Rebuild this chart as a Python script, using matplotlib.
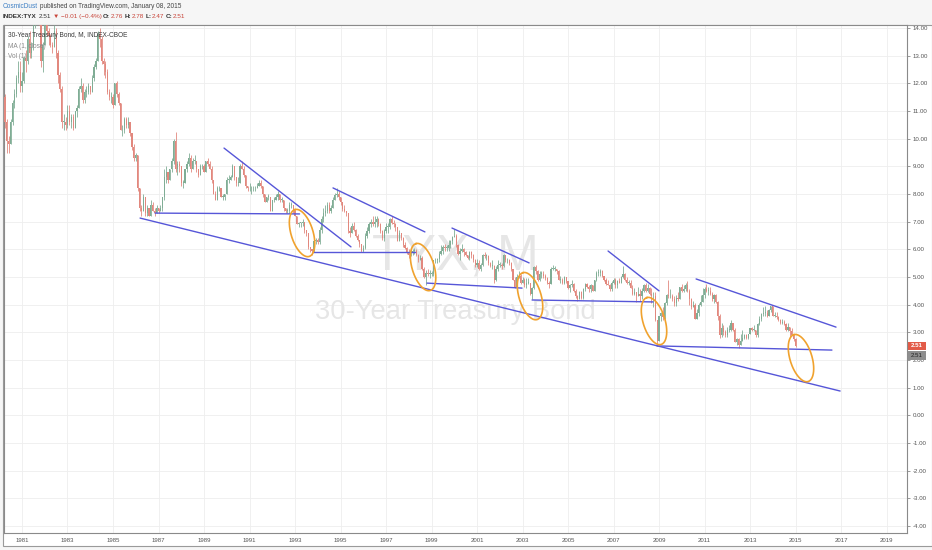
import matplotlib
matplotlib.use('Agg')
import matplotlib.pyplot as plt
import numpy as np
from matplotlib.patches import Rectangle

# ---------------- data (monthly 30-year yield, INDEX:TYX) ----------------
start_year, start_month = 1980, 4
first_open = 11.5

closes = [
    10.6, 9.9, 9.8, 10.6, 11.3, 11.6, 12.2, 12.4, 11.9,                       # 1980 Apr-Dec
    12.1, 12.9, 12.8, 13.6, 13.1, 13.3, 14.1, 14.7, 15.1, 14.6, 12.8, 13.4,   # 1981
    14.2, 13.9, 13.7, 13.4, 13.3, 13.9, 13.1, 12.3, 11.8, 10.6, 10.6, 10.5,   # 1982
    11.0, 10.6, 10.8, 10.4, 11.0, 11.1, 11.8, 11.9, 11.4, 11.7, 11.7, 11.9,   # 1983
    11.7, 12.2, 12.6, 12.8, 13.8, 13.6, 12.8, 12.7, 12.4, 11.7, 11.5, 11.5,   # 1984
    11.2, 12.0, 11.6, 11.3, 10.3, 10.3, 10.7, 10.5, 10.6, 10.2, 9.7, 9.3,     # 1985
    9.4, 8.2, 7.5, 7.4, 7.9, 7.3, 7.5, 7.2, 7.6, 7.4, 7.3, 7.5,               # 1986
    7.4, 7.5, 7.9, 8.6, 8.8, 8.5, 8.9, 9.2, 9.9, 8.9, 9.1, 9.0,               # 1987
    8.4, 8.4, 8.9, 9.1, 9.3, 8.9, 9.2, 9.2, 8.9, 8.7, 9.0, 9.0,               # 1988
    8.8, 9.2, 9.1, 8.9, 8.5, 8.0, 7.8, 8.2, 8.2, 7.9, 7.9, 8.0,               # 1989
    8.5, 8.5, 8.6, 9.0, 8.6, 8.4, 8.4, 9.0, 8.9, 8.7, 8.3, 8.2,               # 1990
    8.2, 8.2, 8.2, 8.2, 8.3, 8.4, 8.3, 8.0, 7.7, 7.9, 7.9, 7.4,               # 1991
    7.8, 7.8, 7.9, 8.0, 7.8, 7.8, 7.5, 7.4, 7.4, 7.6, 7.6, 7.4,               # 1992
    7.2, 6.9, 6.95, 6.95, 7.0, 6.7, 6.6, 6.1, 6.0, 5.95, 6.3, 6.35,           # 1993
    6.25, 6.7, 7.1, 7.3, 7.4, 7.6, 7.4, 7.5, 7.8, 7.95, 8.0, 7.9,             # 1994
    7.7, 7.45, 7.4, 7.3, 6.65, 6.6, 6.85, 6.7, 6.5, 6.35, 6.2, 5.95,          # 1995
    6.05, 6.5, 6.65, 6.9, 7.0, 6.9, 7.0, 7.1, 6.9, 6.65, 6.4, 6.65,           # 1996
    6.8, 6.8, 7.1, 6.95, 6.9, 6.8, 6.3, 6.6, 6.4, 6.15, 6.05, 5.9,            # 1997
    5.8, 5.9, 5.95, 5.95, 5.8, 5.6, 5.7, 5.3, 5.0, 5.15, 5.1, 5.1,            # 1998
    5.1, 5.6, 5.6, 5.65, 5.85, 5.95, 6.1, 6.05, 6.05, 6.15, 6.3, 6.45,        # 1999
    6.5, 6.15, 5.85, 5.95, 6.0, 5.9, 5.8, 5.7, 5.9, 5.8, 5.6, 5.45,           # 2000
    5.5, 5.3, 5.45, 5.8, 5.75, 5.75, 5.5, 5.4, 5.4, 4.9, 5.3, 5.45,           # 2001
    5.45, 5.4, 5.8, 5.6, 5.6, 5.5, 5.3, 4.9, 4.65, 5.0, 5.05, 4.8,            # 2002
    4.9, 4.7, 4.8, 4.8, 4.4, 4.6, 5.35, 5.2, 4.9, 5.1, 5.1, 5.05,             # 2003
    4.95, 4.8, 4.75, 5.3, 5.3, 5.3, 5.2, 4.9, 4.9, 4.8, 5.0, 4.85,            # 2004
    4.6, 4.7, 4.75, 4.5, 4.3, 4.2, 4.45, 4.25, 4.55, 4.75, 4.65, 4.55,        # 2005
    4.7, 4.5, 4.9, 5.15, 5.15, 5.2, 5.05, 4.9, 4.75, 4.7, 4.55, 4.8,          # 2006
    4.9, 4.7, 4.85, 4.8, 5.0, 5.1, 4.9, 4.8, 4.8, 4.6, 4.4, 4.45,             # 2007
    4.3, 4.4, 4.3, 4.5, 4.7, 4.5, 4.6, 4.4, 4.3, 4.3, 3.45, 2.7,              # 2008
    3.6, 3.7, 3.55, 4.05, 4.35, 4.3, 4.3, 4.2, 4.05, 4.25, 4.2, 4.65,         # 2009
    4.5, 4.55, 4.7, 4.5, 4.2, 3.9, 4.0, 3.5, 3.7, 4.0, 4.1, 4.35,             # 2010
    4.55, 4.5, 4.5, 4.4, 4.2, 4.35, 4.1, 3.6, 2.9, 3.15, 3.0, 2.9,            # 2011
    3.1, 3.1, 3.35, 3.1, 2.65, 2.75, 2.55, 2.7, 2.8, 2.9, 2.8, 2.95,          # 2012
    3.15, 3.1, 3.1, 2.9, 3.3, 3.5, 3.65, 3.7, 3.7, 3.6, 3.8, 3.95,            # 2013
    3.6, 3.6, 3.55, 3.45, 3.33, 3.36, 3.3, 3.1, 3.2, 3.06, 2.9, 2.75,         # 2014
    2.51,                                                                     # 2015 Jan
]

highs = [
    11.6, 10.7, 10.1, 10.7, 11.4, 11.8, 12.3, 12.8, 12.8,
    12.4, 13.0, 13.2, 13.7, 13.9, 13.5, 14.2, 14.8, 15.2, 15.2, 14.6, 13.5,
    14.4, 14.3, 14.0, 13.8, 13.5, 14.1, 14.0, 13.2, 12.4, 11.9, 10.9, 10.8,
    11.2, 11.2, 10.9, 10.9, 11.0, 11.2, 11.9, 12.2, 12.0, 11.8, 11.9, 12.0,
    11.9, 12.3, 12.7, 12.9, 13.9, 14.0, 13.7, 12.9, 12.8, 12.5, 11.8, 11.7,
    11.6, 12.0, 12.1, 11.7, 11.3, 10.5, 10.8, 10.8, 10.8, 10.6, 10.2, 9.8,
    9.5, 9.4, 8.2, 7.6, 8.0, 7.9, 7.6, 7.5, 7.8, 7.7, 7.5, 7.6,
    7.5, 7.6, 7.9, 8.9, 9.0, 8.8, 8.9, 9.3, 10.0, 10.25, 9.2, 9.2,
    9.0, 8.5, 8.9, 9.2, 9.5, 9.4, 9.3, 9.4, 9.2, 8.9, 9.1, 9.1,
    9.1, 9.2, 9.3, 9.2, 9.0, 8.5, 8.1, 8.3, 8.3, 8.2, 8.0, 8.0,
    8.6, 8.7, 8.7, 9.1, 9.0, 8.6, 8.6, 9.1, 9.2, 9.0, 8.7, 8.3,
    8.4, 8.3, 8.3, 8.3, 8.4, 8.5, 8.5, 8.3, 8.0, 7.9, 8.0, 7.9,
    7.8, 7.9, 8.0, 8.1, 8.0, 7.9, 7.8, 7.5, 7.5, 7.7, 7.7, 7.6,
    7.45, 7.2, 7.0, 7.0, 7.1, 7.0, 6.7, 6.6, 6.1, 6.0, 6.4, 6.4,
    6.4, 6.8, 7.2, 7.5, 7.6, 7.7, 7.7, 7.6, 7.9, 8.05, 8.2, 8.1,
    7.9, 7.7, 7.6, 7.4, 7.3, 6.8, 6.95, 7.0, 6.75, 6.55, 6.35, 6.2,
    6.15, 6.6, 6.8, 7.0, 7.1, 7.2, 7.2, 7.2, 7.15, 6.95, 6.7, 6.75,
    6.95, 6.95, 7.15, 7.2, 7.05, 6.95, 6.8, 6.7, 6.6, 6.45, 6.25, 6.1,
    6.0, 6.0, 6.0, 6.05, 6.0, 5.85, 5.8, 5.75, 5.35, 5.25, 5.3, 5.25,
    5.2, 5.6, 5.7, 5.7, 5.95, 6.15, 6.15, 6.2, 6.15, 6.35, 6.35, 6.5,
    6.75, 6.55, 6.2, 6.05, 6.2, 6.05, 5.95, 5.8, 5.95, 5.95, 5.85, 5.65,
    5.65, 5.6, 5.5, 5.85, 5.9, 5.85, 5.8, 5.55, 5.6, 5.45, 5.4, 5.6,
    5.55, 5.5, 5.85, 5.8, 5.7, 5.65, 5.55, 5.3, 5.0, 5.1, 5.2, 5.1,
    5.0, 4.95, 4.95, 4.95, 4.8, 4.65, 5.4, 5.45, 5.25, 5.2, 5.2, 5.2,
    5.1, 5.0, 4.85, 5.35, 5.45, 5.4, 5.3, 5.25, 5.05, 4.95, 5.05, 5.0,
    4.85, 4.75, 4.9, 4.8, 4.55, 4.35, 4.5, 4.5, 4.6, 4.8, 4.8, 4.7,
    4.75, 4.7, 4.9, 5.2, 5.3, 5.3, 5.25, 5.05, 4.95, 4.9, 4.75, 4.85,
    4.95, 4.95, 4.9, 4.95, 5.05, 5.4, 5.15, 5.0, 4.9, 4.9, 4.7, 4.6,
    4.45, 4.65, 4.55, 4.6, 4.75, 4.8, 4.75, 4.65, 4.6, 4.45, 4.45, 3.45,
    3.6, 3.75, 3.9, 4.1, 4.4, 4.9, 4.55, 4.4, 4.3, 4.35, 4.45, 4.65,
    4.75, 4.7, 4.8, 4.85, 4.55, 4.25, 4.15, 4.05, 3.85, 4.05, 4.35, 4.6,
    4.65, 4.75, 4.65, 4.65, 4.45, 4.4, 4.4, 4.15, 3.65, 3.35, 3.25, 3.1,
    3.2, 3.25, 3.45, 3.35, 3.15, 2.8, 2.8, 2.95, 3.1, 2.95, 2.95, 2.95,
    3.15, 3.2, 3.25, 3.1, 3.35, 3.6, 3.7, 3.9, 3.95, 3.8, 3.85, 3.97,
    3.95, 3.75, 3.75, 3.6, 3.5, 3.5, 3.45, 3.35, 3.35, 3.15, 3.15, 2.95,
    2.78,
]

lows = [
    10.4, 9.5, 9.5, 9.8, 10.5, 11.1, 11.5, 12.0, 11.7,
    11.7, 12.0, 12.4, 12.7, 12.9, 12.9, 13.2, 14.0, 14.4, 14.1, 12.6, 12.4,
    13.4, 13.7, 13.4, 13.3, 13.1, 13.3, 12.9, 12.0, 11.7, 10.4, 10.3, 10.3,
    10.4, 10.5, 10.4, 10.3, 10.4, 10.8, 11.1, 11.7, 11.3, 11.3, 11.5, 11.6,
    11.6, 11.7, 12.1, 12.5, 12.8, 13.3, 12.7, 12.3, 12.2, 11.6, 11.4, 11.3,
    11.1, 11.2, 11.5, 11.2, 10.3, 10.1, 10.2, 10.4, 10.4, 10.1, 9.6, 9.2,
    9.2, 8.1, 7.4, 7.2, 7.4, 7.2, 7.2, 7.2, 7.2, 7.4, 7.2, 7.3,
    7.3, 7.4, 7.4, 7.8, 8.4, 8.4, 8.5, 8.8, 9.1, 8.8, 8.7, 8.8,
    8.3, 8.2, 8.4, 8.8, 9.0, 8.8, 8.9, 9.1, 8.8, 8.6, 8.7, 8.9,
    8.8, 8.8, 9.0, 8.9, 8.4, 8.0, 7.8, 7.8, 8.1, 7.9, 7.8, 7.8,
    8.0, 8.4, 8.5, 8.6, 8.5, 8.3, 8.3, 8.4, 8.9, 8.6, 8.2, 8.1,
    8.1, 8.0, 8.1, 8.1, 8.2, 8.3, 8.2, 7.9, 7.7, 7.7, 7.8, 7.4,
    7.4, 7.7, 7.8, 7.8, 7.7, 7.7, 7.4, 7.3, 7.3, 7.3, 7.5, 7.3,
    7.2, 6.9, 6.8, 6.8, 6.85, 6.6, 6.5, 6.0, 5.9, 5.78, 5.9, 6.2,
    6.2, 6.2, 6.6, 7.0, 7.2, 7.3, 7.3, 7.3, 7.5, 7.8, 7.9, 7.8,
    7.6, 7.4, 7.35, 7.2, 6.6, 6.45, 6.6, 6.65, 6.45, 6.3, 6.1, 5.9,
    5.9, 6.0, 6.4, 6.6, 6.8, 6.85, 6.8, 6.8, 6.85, 6.6, 6.35, 6.3,
    6.6, 6.6, 6.75, 6.9, 6.8, 6.65, 6.3, 6.3, 6.35, 6.1, 6.0, 5.85,
    5.7, 5.75, 5.8, 5.85, 5.75, 5.55, 5.6, 5.25, 4.95, 4.7, 5.05, 4.95,
    5.05, 5.05, 5.5, 5.5, 5.55, 5.8, 5.85, 5.95, 5.95, 5.95, 6.05, 6.2,
    6.45, 6.1, 5.8, 5.6, 5.9, 5.75, 5.75, 5.65, 5.6, 5.7, 5.55, 5.35,
    5.35, 5.25, 5.2, 5.4, 5.7, 5.6, 5.45, 5.35, 5.3, 4.8, 4.85, 5.2,
    5.35, 5.3, 5.35, 5.55, 5.5, 5.45, 5.2, 4.9, 4.6, 4.7, 4.95, 4.75,
    4.8, 4.65, 4.6, 4.75, 4.35, 4.2, 4.55, 5.1, 4.85, 4.85, 4.95, 4.95,
    4.9, 4.75, 4.6, 4.75, 5.25, 5.2, 5.1, 4.9, 4.8, 4.75, 4.75, 4.8,
    4.55, 4.45, 4.65, 4.45, 4.25, 4.15, 4.2, 4.2, 4.2, 4.5, 4.6, 4.45,
    4.45, 4.5, 4.5, 4.85, 5.05, 5.05, 5.0, 4.85, 4.7, 4.7, 4.5, 4.5,
    4.75, 4.6, 4.6, 4.8, 4.8, 4.95, 4.85, 4.75, 4.7, 4.6, 4.35, 4.35,
    4.1, 4.3, 4.15, 4.2, 4.45, 4.45, 4.45, 4.35, 4.05, 3.9, 3.4, 2.5,
    2.7, 3.4, 3.45, 3.5, 4.0, 4.25, 4.25, 4.15, 3.95, 3.95, 4.15, 4.2,
    4.45, 4.45, 4.5, 4.45, 4.0, 3.85, 3.9, 3.5, 3.5, 3.6, 3.95, 4.15,
    4.25, 4.45, 4.35, 4.35, 4.15, 4.05, 4.05, 3.45, 2.8, 2.85, 2.9, 2.85,
    2.85, 3.0, 3.05, 3.05, 2.65, 2.55, 2.45, 2.55, 2.7, 2.75, 2.75, 2.75,
    2.95, 3.05, 3.05, 2.85, 2.85, 3.25, 3.4, 3.6, 3.6, 3.55, 3.6, 3.75,
    3.6, 3.55, 3.5, 3.4, 3.3, 3.3, 3.25, 3.05, 3.05, 2.85, 2.9, 2.7,
    2.47,
]

year_ticks = list(range(1981, 2020, 2))
value_ticks = list(range(-4, 15))

# drawn trend lines: (year0, value0, year1, value1)
trend_lines = [
    (1986.19, 7.13, 2016.96, 0.88),
    (1986.85, 7.31, 1993.20, 7.28),
    (1993.79, 5.90, 1998.27, 5.90),
    (1998.80, 4.78, 2002.98, 4.60),
    (2003.42, 4.17, 2008.74, 4.10),
    (2008.91, 2.51, 2016.60, 2.36),
    (1989.88, 9.66, 1995.46, 6.09),
    (1994.67, 8.22, 1998.71, 6.63),
    (1999.90, 6.77, 2003.29, 5.51),
    (2006.76, 5.94, 2009.00, 4.50),
    (2010.63, 4.93, 2016.78, 3.19),
]
# ellipse centres (year, value)
ellipse_centres = [(1993.31, 6.59), (1998.63, 5.36), (2003.33, 4.31),
                   (2008.78, 3.41), (2015.24, 2.07)]

last_close = 2.51

# ---------------- figure ----------------
W, H = 932, 550
fig = plt.figure(figsize=(W / 100, H / 100), dpi=100, facecolor='#f6f6f6')
renderer = fig.canvas.get_renderer()
FAM = ['Liberation Sans', 'DejaVu Sans']

def fx(px):
    return px / W

def fy(py):
    return 1 - py / H

fig.patches.append(Rectangle((fx(3), fy(546)), fx(932) - fx(3), fy(25) - fy(546),
                             transform=fig.transFigure, facecolor='white',
                             edgecolor='#9a9a9a', lw=0.8, zorder=-5))

ax = fig.add_axes([fx(4), fy(533), fx(907) - fx(4), fy(25) - fy(533)])
ax.set_zorder(1)
ax.set_facecolor('white')
xmin, xmax = 1980.209, 2019.90
ymin, ymax = -4.251, 14.108
ax.set_xlim(xmin, xmax)
ax.set_ylim(ymin, ymax)

def fit_size(txt, target, weight='normal', base=10.0):
    t = fig.text(0, 0, txt, fontsize=base, fontweight=weight, family=FAM)
    w = t.get_window_extent(renderer).width
    t.remove()
    return base * target / w

# watermark (behind the candles, inside the axes)
wm1 = fit_size('TYX, M', 166)
wm2 = fit_size('30-Year Treasury Bond', 282)
ax.text(fx(372), fy(257), 'TYX, M', fontsize=wm1, color='#e6e6e6', family=FAM,
        ha='left', va='center', zorder=1, transform=fig.transFigure)
ax.text(fx(315), fy(312), '30-Year Treasury Bond', fontsize=wm2, color='#e6e6e6',
        family=FAM, ha='left', va='center', zorder=1, transform=fig.transFigure)

# candles
n = len(closes)
xs = np.array([start_year + (start_month - 1 + i) / 12.0 for i in range(n)])
c = np.array(closes)
o = np.concatenate([[first_open], c[:-1]])
hi = np.maximum(np.array(highs), np.maximum(o, c))
lo = np.minimum(np.array(lows), np.minimum(o, c))
up = c >= o
UP, DN = '#80ad95', '#e2887e'
cols = np.where(up, UP, DN)
ax.vlines(xs, lo, hi, colors=cols, lw=0.6, zorder=3)
body_bottom = np.minimum(o, c)
body_h = np.maximum(np.abs(c - o), 0.03)
ax.bar(xs, body_h, bottom=body_bottom, width=0.05, color=cols, linewidth=0, zorder=3)

# grid & ticks
ax.set_xticks(year_ticks)
ax.set_xticklabels([str(y) for y in year_ticks])
ax.set_yticks(value_ticks)
ax.set_yticklabels(['%.2f' % v for v in value_ticks])
ax.yaxis.tick_right()
ax.grid(True, color='#eeeeee', lw=0.6, zorder=0)
ax.set_axisbelow(True)
ax.tick_params(axis='x', length=0, pad=3.5, labelsize=4.3, labelcolor='#555555',
               labelfontfamily='Liberation Sans')
ax.tick_params(axis='y', length=2.5, width=0.6, color='#888888', pad=1.5,
               labelsize=4.4, labelcolor='#555555', labelfontfamily='Liberation Sans')
for s in ax.spines.values():
    s.set_color('#8a8a8a')
    s.set_linewidth(0.8)

# trend lines
LINE = '#5656d8'
for (x0, y0, x1, y1) in trend_lines:
    ax.plot([x0, x1], [y0, y1], color=LINE, lw=1.0, zorder=5, solid_capstyle='round')

# ellipses (pixel radii converted via the axis scale)
ppx = (fx(907) - fx(4)) * W / (xmax - xmin)
ppy = (fy(25) - fy(533)) * H / (ymax - ymin)
a_px, b_px, th = 24.5, 11.0, np.radians(17)
t = np.linspace(0, 2 * np.pi, 200)
ux, uy = -np.sin(th), np.cos(th)
vx, vy = np.cos(th), np.sin(th)
for (cx, cy) in ellipse_centres:
    dx = a_px * np.cos(t) * ux + b_px * np.sin(t) * vx
    dy = a_px * np.cos(t) * uy + b_px * np.sin(t) * vy
    ax.plot(cx + dx / ppx, cy + dy / ppy, color='#f0a22e', lw=1.2, zorder=6)

# header lines
def text_w(s, wt, base):
    tt = fig.text(0, 0, s, fontsize=base, fontweight=wt, family=FAM)
    w = tt.get_window_extent(renderer).width
    tt.remove()
    return w

def seg_line(x0, yc, segs, target):
    base = 10.0
    space = text_w('a a', 'normal', base) - text_w('aa', 'normal', base)
    total = sum(text_w(s, wt, base) for s, col, wt, g in segs) + space * sum(g for s, col, wt, g in segs)
    size = base * target / total
    k = size / base
    x = x0
    for s, col, wt, g in segs:
        fig.text(fx(x), fy(yc), s, fontsize=size, fontweight=wt, color=col, family=FAM,
                 ha='left', va='center')
        x += text_w(s, wt, base) * k + space * k * g

DK, RD, BL = '#333333', '#c8453a', '#3d7fc4'
seg_line(3, 7, [('CosmicDust', BL, 'normal', 1),
                ('published on TradingView.com, January 08, 2015', '#444444', 'normal', 0)], 180)
seg_line(3, 16.5, [('INDEX:TYX', DK, 'bold', 1), ('2.51', DK, 'normal', 1),
                   ('\u25bc', RD, 'normal', 1), ('\u22120.01 (\u22120.4%)', RD, 'normal', 1),
                   ('O:', DK, 'bold', 0), ('2.76', RD, 'normal', 1),
                   ('H:', DK, 'bold', 0), ('2.78', RD, 'normal', 1),
                   ('L:', DK, 'bold', 0), ('2.47', RD, 'normal', 1),
                   ('C:', DK, 'bold', 0), ('2.51', RD, 'normal', 0)], 182)

ts = fit_size('30-Year Treasury Bond, M, INDEX-CBOE', 120)
fig.text(fx(8), fy(35.5), '30-Year Treasury Bond, M, INDEX-CBOE', fontsize=ts,
         color='#3a3a3a', family=FAM, ha='left', va='center', zorder=10)
fig.text(fx(8), fy(46), 'MA (1, close)', fontsize=ts, color='#8a8a8a', family=FAM,
         ha='left', va='center', zorder=10)
fig.text(fx(8), fy(56), 'Vol (1)', fontsize=ts, color='#8a8a8a', family=FAM,
         ha='left', va='center', zorder=10)

# last price labels
ypx = 25 + (ymax - last_close) * ppy
fig.patches.append(Rectangle((fx(908), fy(ypx + 3.6)), fx(18), fy(0) - fy(7.2),
                             transform=fig.transFigure, facecolor='#e25b48',
                             edgecolor='none', zorder=5))
fig.text(fx(917), fy(ypx), '%.2f' % last_close, fontsize=4.4, color='white',
         family=FAM, ha='center', va='center', fontweight='bold', zorder=6)
fig.patches.append(Rectangle((fx(908), fy(ypx + 14)), fx(18), fy(0) - fy(9),
                             transform=fig.transFigure, facecolor='#8e8e8e',
                             edgecolor='none', zorder=5))
fig.text(fx(917), fy(ypx + 9.5), '%.2f' % last_close, fontsize=4.4, color='#222222',
         family=FAM, ha='center', va='center', zorder=6)

fig.savefig('out.png', dpi=100, facecolor=fig.get_facecolor())
